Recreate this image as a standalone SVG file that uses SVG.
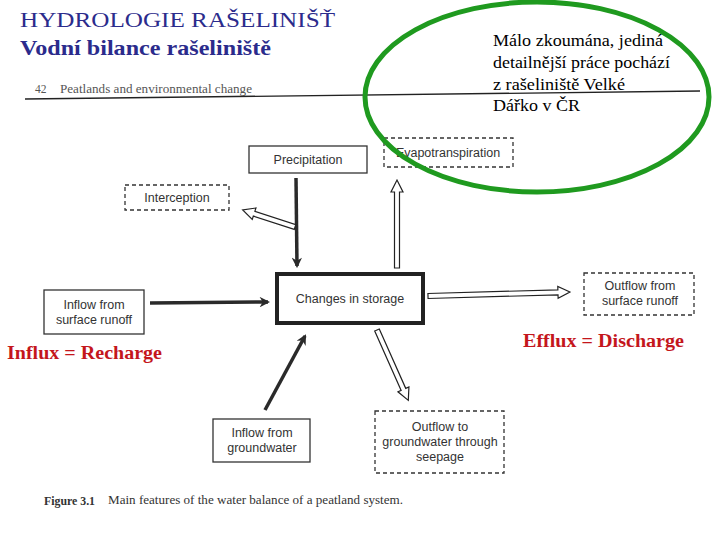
<svg xmlns="http://www.w3.org/2000/svg" width="720" height="540" viewBox="0 0 720 540">
<defs>
<style>
.t1{font-family:"Liberation Serif",serif;fill:#2b2b8c}
.box{fill:#fff;stroke:#333;stroke-width:1.3}
.dbox{fill:none;stroke:#333;stroke-width:1.3;stroke-dasharray:4 3}
.lbl{font-family:"Liberation Sans",Arial,sans-serif;font-size:12.5px;fill:#333;text-anchor:middle}
.dark{stroke:#2a2a2a;stroke-width:3.5;fill:none;marker-end:url(#ah)}
.hollow{fill:#fff;stroke:#222;stroke-width:1.2}
.red{font-family:"Liberation Serif",serif;font-weight:bold;font-size:18px;fill:#c4161c}
.note{font-family:"Liberation Serif",serif;font-size:17px;fill:#000}
.serif{font-family:"Liberation Serif",serif}
</style>
<marker id="ah" viewBox="0 0 10 10" refX="8" refY="5" markerWidth="3.2" markerHeight="3" orient="auto" markerUnits="strokeWidth">
<path d="M0,0 L10,5 L0,10 L3,5 z" fill="#2a2a2a"/>
</marker>
</defs>
<rect width="720" height="540" fill="#fff"/>
<g id="header">
<text class="t1" x="20" y="27" font-size="22" textLength="315" lengthAdjust="spacingAndGlyphs">HYDROLOGIE RAŠELINIŠŤ</text>
<text class="t1" x="20" y="55" font-size="21" font-weight="bold" textLength="251" lengthAdjust="spacingAndGlyphs">Vodní bilance rašeliniště</text>
<text class="serif" x="35" y="93" font-size="11.5" fill="#555">42</text>
<text class="serif" x="60" y="93" font-size="11.5" fill="#555" textLength="192" lengthAdjust="spacingAndGlyphs">Peatlands and environmental change</text>
<path d="M25,99 Q360,95 700,91" stroke="#222" stroke-width="1.3" fill="none"/>
</g>
<g id="connectors">
<path class="dark" d="M296,178 L297,266"/>
<path class="dark" d="M150,303 L268,302"/>
<path class="dark" d="M265,410 L305,336"/>
<polygon class="hollow" transform="translate(397,268) rotate(-90)" points="0,-2.5 76,-2.5 76,-6 88,0 76,6 76,2.5 0,2.5"/>
<polygon class="hollow" transform="translate(295,227) rotate(198)" points="0,-2.5 43,-2.5 43,-6 55,0 43,6 43,2.5 0,2.5"/>
<polygon class="hollow" transform="translate(428,296) rotate(-1.6)" points="0,-2.5 130,-2.5 130,-6 142,0 130,6 130,2.5 0,2.5"/>
<polygon class="hollow" transform="translate(377,330) rotate(66)" points="0,-2.5 65,-2.5 65,-6 77,0 65,6 65,2.5 0,2.5"/>
</g>
<g id="precipitation">
<rect class="box" x="249" y="146" width="118" height="27"/>
<text class="lbl" x="308" y="164">Precipitation</text>
</g>
<g id="evapotranspiration">
<rect class="dbox" x="384" y="138" width="129" height="29"/>
<text class="lbl" x="448" y="157">Evapotranspiration</text>
</g>
<g id="interception">
<rect class="dbox" x="125" y="185" width="104" height="25"/>
<text class="lbl" x="177" y="202">Interception</text>
</g>
<g id="storage">
<rect x="277" y="274" width="146" height="49" fill="#fff" stroke="#222" stroke-width="4"/>
<text class="lbl" x="350" y="303">Changes in storage</text>
</g>
<g id="inflow-surface">
<rect class="box" x="44" y="290" width="100" height="44"/>
<text class="lbl" x="94" y="309">Inflow from</text>
<text class="lbl" x="94" y="324">surface runoff</text>
</g>
<g id="outflow-surface">
<rect class="dbox" x="584" y="273" width="110" height="42"/>
<text class="lbl" x="640" y="290">Outflow from</text>
<text class="lbl" x="640" y="305">surface runoff</text>
</g>
<g id="inflow-groundwater">
<rect class="box" x="213" y="419" width="97" height="43"/>
<text class="lbl" x="262" y="437">Inflow from</text>
<text class="lbl" x="262" y="452">groundwater</text>
</g>
<g id="outflow-groundwater">
<rect class="dbox" x="375" y="411" width="129" height="62"/>
<text class="lbl" x="440" y="431">Outflow to</text>
<text class="lbl" x="440" y="446">groundwater through</text>
<text class="lbl" x="440" y="461">seepage</text>
</g>
<g id="caption">
<text class="serif" x="44" y="505" font-size="11.5" fill="#333" font-weight="bold" textLength="51" lengthAdjust="spacingAndGlyphs">Figure 3.1</text>
<text class="serif" x="108" y="504" font-size="11.5" fill="#333" textLength="295" lengthAdjust="spacingAndGlyphs">Main features of the water balance of a peatland system.</text>
</g>
<g id="labels">
<text class="red" x="7" y="359" textLength="155" lengthAdjust="spacingAndGlyphs">Influx = Recharge</text>
<text class="red" x="523" y="347" textLength="161" lengthAdjust="spacingAndGlyphs">Efflux = Discharge</text>
</g>
<g id="note">
<ellipse cx="537" cy="97" rx="172" ry="95" fill="none" stroke="#1f9a1f" stroke-width="5"/>
<text class="note" x="493" y="46" textLength="170" lengthAdjust="spacingAndGlyphs">Málo zkoumána, jediná</text>
<text class="note" x="493" y="68" textLength="177" lengthAdjust="spacingAndGlyphs">detailnější práce pochází</text>
<text class="note" x="493" y="90" textLength="132" lengthAdjust="spacingAndGlyphs">z rašeliniště Velké</text>
<text class="note" x="493" y="111" textLength="87" lengthAdjust="spacingAndGlyphs">Dářko v ČR</text>
</g>
</svg>
